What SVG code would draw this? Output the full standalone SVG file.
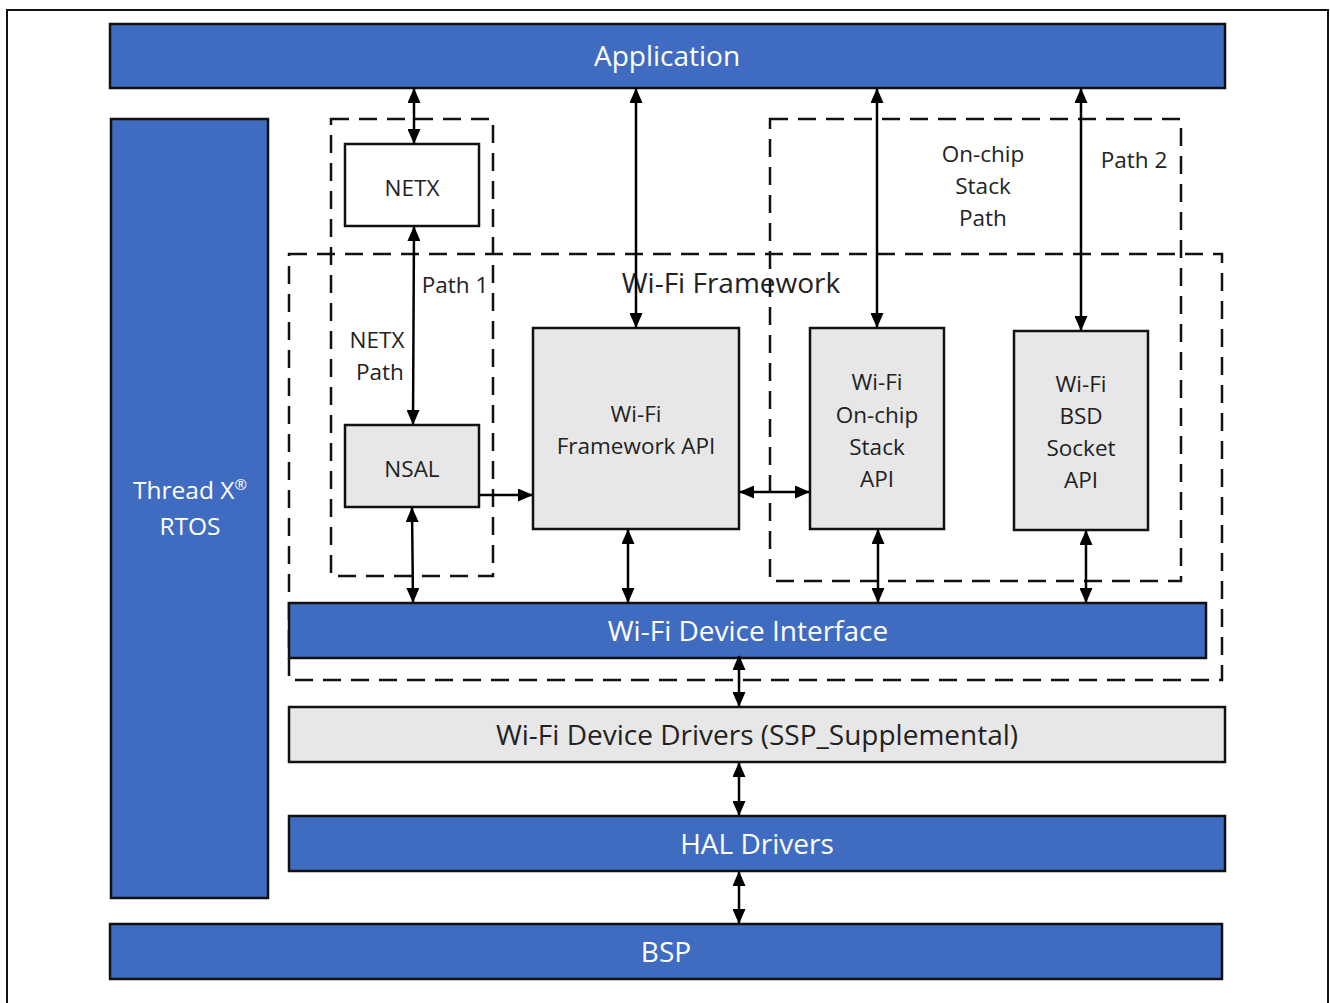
<svg xmlns="http://www.w3.org/2000/svg" width="1330" height="1003" viewBox="0 0 1330 1003">
<style>
.blue{fill:#3F6CC1;stroke:#111;stroke-width:2.5}
.grey{fill:#E7E7E7;stroke:#111;stroke-width:2.5}
.white{fill:#fff;stroke:#111;stroke-width:2.5}
.dash{fill:none;stroke:#111;stroke-width:2.5;stroke-dasharray:18 10}
.t{font-family:"Open Sans","Noto Sans","DejaVu Sans",sans-serif;text-anchor:middle}
.wt{fill:#fff;font-size:28px}
.bt{fill:#222;font-size:22.5px}
.conn line{stroke:#000;stroke-width:2.5}
</style>
<defs>
<marker id="ah" viewBox="0 0 15 13" refX="14" refY="6.5" markerWidth="15" markerHeight="13" markerUnits="userSpaceOnUse" orient="auto-start-reverse">
<path d="M0,0 L15,6.5 L0,13 z" fill="#000"/>
</marker>
</defs>
<rect x="0" y="0" width="1330" height="1003" fill="#fff"/>
<rect x="7" y="10" width="1321" height="1010" fill="none" stroke="#111" stroke-width="2"/>

<g id="path1-group"><rect class="dash" x="331" y="119" width="162" height="457"/>
<text class="t bt" x="455" y="293">Path 1</text>
<text class="t bt" x="377" y="348">NETX</text>
<text class="t bt" x="380" y="380">Path</text></g>
<g id="onchip-group"><rect class="dash" x="770" y="119" width="411" height="462"/>
<text class="t bt" x="983" y="162">On-chip</text>
<text class="t bt" x="983" y="194">Stack</text>
<text class="t bt" x="983" y="226">Path</text>
<text class="t bt" x="1134" y="168">Path 2</text></g>
<g id="wifi-framework"><rect class="dash" x="289" y="254" width="933" height="426"/>
<text class="t" x="731" y="293" font-size="28" fill="#222">Wi-Fi Framework</text></g>

<g id="application"><rect class="blue" x="110" y="24" width="1115" height="64"/>
<text class="t wt" x="667" y="66">Application</text></g>
<g id="threadx"><rect class="blue" x="111" y="119" width="157" height="779"/>
<text class="t" x="190" y="499" font-size="24.5" fill="#fff">Thread X<tspan font-size="15" dy="-9">®</tspan></text>
<text class="t" x="190" y="535" font-size="24.5" fill="#fff">RTOS</text></g>
<g id="netx"><rect class="white" x="345" y="144" width="134" height="82"/>
<text class="t bt" x="412" y="196">NETX</text></g>
<g id="nsal"><rect class="grey" x="345" y="425" width="134" height="82"/>
<text class="t bt" x="412" y="477">NSAL</text></g>
<g id="framework-api"><rect class="grey" x="533" y="328" width="206" height="201"/>
<text class="t bt" x="636" y="422">Wi-Fi</text>
<text class="t bt" x="636" y="454">Framework API</text></g>
<g id="onchip-api"><rect class="grey" x="810" y="328" width="134" height="201"/>
<text class="t bt" x="877" y="390">Wi-Fi</text>
<text class="t bt" x="877" y="423">On-chip</text>
<text class="t bt" x="877" y="455">Stack</text>
<text class="t bt" x="877" y="487">API</text></g>
<g id="bsd-api"><rect class="grey" x="1014" y="331" width="134" height="199"/>
<text class="t bt" x="1081" y="392">Wi-Fi</text>
<text class="t bt" x="1081" y="424">BSD</text>
<text class="t bt" x="1081" y="456">Socket</text>
<text class="t bt" x="1081" y="488">API</text></g>
<g id="device-interface"><rect class="blue" x="289" y="603" width="917" height="55"/>
<text class="t wt" x="748" y="641">Wi-Fi Device Interface</text></g>
<g id="device-drivers"><rect class="grey" x="289" y="707" width="936" height="55"/>
<text class="t" x="757" y="745" font-size="28" fill="#222">Wi-Fi Device Drivers (SSP_Supplemental)</text></g>
<g id="hal"><rect class="blue" x="289" y="816" width="936" height="55"/>
<text class="t wt" x="757" y="854">HAL Drivers</text></g>
<g id="bsp"><rect class="blue" x="110" y="924" width="1112" height="55"/>
<text class="t wt" x="666" y="962">BSP</text></g>

<g id="connectors" class="conn">
<line x1="414" y1="89" x2="414" y2="143" marker-start="url(#ah)" marker-end="url(#ah)"/>
<line x1="414" y1="227" x2="413" y2="424" marker-start="url(#ah)" marker-end="url(#ah)"/>
<line x1="636" y1="89" x2="636" y2="327" marker-start="url(#ah)" marker-end="url(#ah)"/>
<line x1="877" y1="89" x2="877" y2="327" marker-start="url(#ah)" marker-end="url(#ah)"/>
<line x1="1081" y1="89" x2="1081" y2="330" marker-start="url(#ah)" marker-end="url(#ah)"/>
<line x1="480" y1="495" x2="532" y2="495" marker-end="url(#ah)"/>
<line x1="740" y1="492" x2="809" y2="492" marker-start="url(#ah)" marker-end="url(#ah)"/>
<line x1="412" y1="508" x2="413" y2="602" marker-start="url(#ah)" marker-end="url(#ah)"/>
<line x1="628" y1="530" x2="628" y2="602" marker-start="url(#ah)" marker-end="url(#ah)"/>
<line x1="878" y1="530" x2="878" y2="602" marker-start="url(#ah)" marker-end="url(#ah)"/>
<line x1="1086" y1="531" x2="1086" y2="602" marker-start="url(#ah)" marker-end="url(#ah)"/>
<line x1="739" y1="656" x2="739" y2="706" marker-start="url(#ah)" marker-end="url(#ah)"/>
<line x1="739" y1="763" x2="739" y2="815" marker-start="url(#ah)" marker-end="url(#ah)"/>
<line x1="739" y1="872" x2="739" y2="923" marker-start="url(#ah)" marker-end="url(#ah)"/>
</g>
</svg>
